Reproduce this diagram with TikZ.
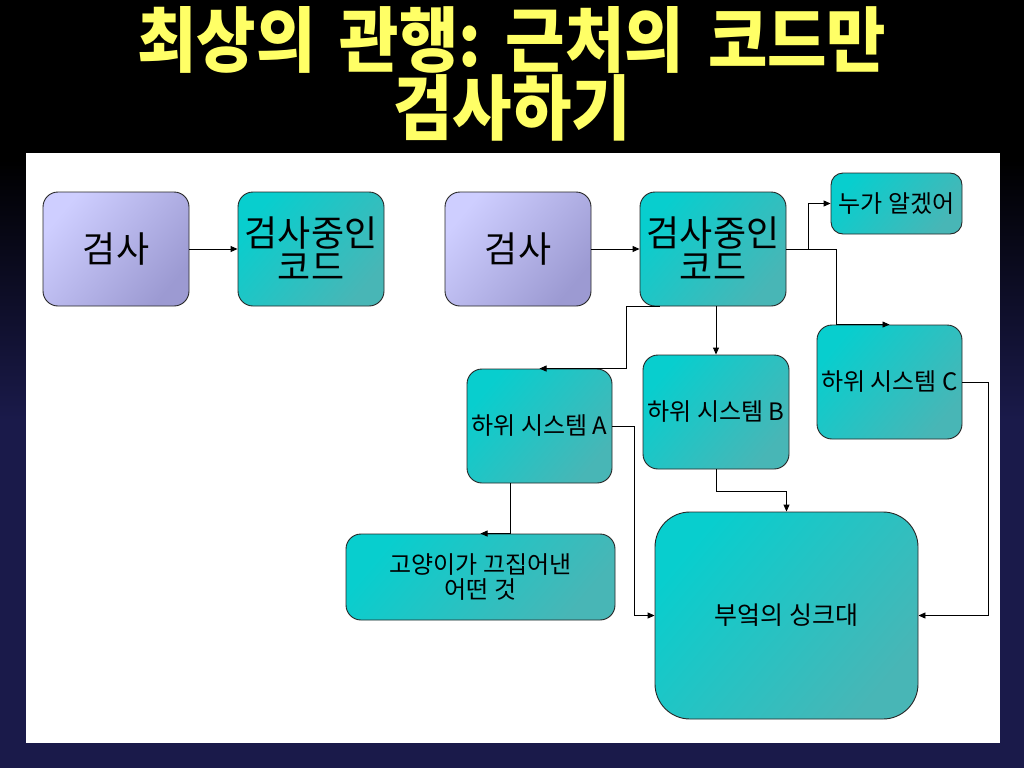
\documentclass[tikz,border=0pt]{standalone}
\usepackage{fontspec}
\setmainfont{Noto Sans CJK KR}
\newfontfamily\titlefont[FakeStretch=0.91]{Noto Sans CJK KR}
\usetikzlibrary{arrows.meta}
\definecolor{tealA}{RGB}{8,206,206}
\definecolor{tealB}{RGB}{72,182,182}
\definecolor{lavA}{RGB}{206,206,255}
\definecolor{lavB}{RGB}{156,154,210}
\definecolor{navy}{RGB}{26,26,74}
\definecolor{titleyellow}{RGB}{255,255,102}
\tikzset{
  boxbase/.style={draw=black!85, line width=0.9pt, rounded corners=15pt, inner sep=0pt, align=center},
  tealbox/.style={boxbase, top color=tealA, bottom color=tealB, shading angle=50},
  lavbox/.style={boxbase, top color=lavA, bottom color=lavB, shading angle=50},
  bigtxt/.style={font=\fontsize{36}{34}\selectfont},
  smalltxt/.style={font=\fontsize{24}{25}\selectfont},
  conn/.style={draw=black, line width=0.9pt, -{Triangle[length=7pt,width=6pt]}},
}
\begin{document}
\begin{tikzpicture}[x=1pt,y=-1pt]
\useasboundingbox (0,0) rectangle (1024,768);
% background
\fill[black] (0,0) rectangle (1024,160);
\shade[top color=black, bottom color=navy] (0,160) rectangle (1024,420);
\fill[navy] (0,420) rectangle (1024,768);
% title
\node[text=titleyellow, align=center, font=\titlefont\bfseries\fontsize{71}{64}\selectfont] (title) at (512,74) {최상의\hspace{0.34em}관행:\hspace{0.34em}근처의\hspace{0.34em}코드만\\검사하기};
% panel
\fill[white] (26,153) rectangle (1000,743);
% nodes
\node[lavbox, bigtxt, minimum width=146pt, minimum height=114pt] (ins1) at (116,249) {검사};
\node[tealbox, bigtxt, minimum width=146pt, minimum height=114pt] (code1) at (311,249) {검사중인\\코드};
\node[lavbox, bigtxt, minimum width=146pt, minimum height=114pt] (ins2) at (518,249) {검사};
\node[tealbox, bigtxt, minimum width=146pt, minimum height=114pt] (code2) at (713,249) {검사중인\\코드};
\node[tealbox, smalltxt, rounded corners=12pt, minimum width=131pt, minimum height=61pt] (who) at (896.5,203.5) {누가 알겠어};
\node[tealbox, smalltxt, minimum width=145pt, minimum height=114pt] (subC) at (889.5,382) {하위 시스템 C};
\node[tealbox, smalltxt, minimum width=145pt, minimum height=114pt] (subA) at (539.5,426) {하위 시스템 A};
\node[tealbox, smalltxt, minimum width=146pt, minimum height=114pt] (subB) at (716,412) {하위 시스템 B};
\node[tealbox, smalltxt, minimum width=269pt, minimum height=86pt] (cat) at (480.5,577) {고양이가 끄집어낸\\어떤 것};
\node[tealbox, font=\fontsize{25}{28}\selectfont, rounded corners=35pt, minimum width=263pt, minimum height=207pt] (sink) at (786.5,615.5) {부엌의 싱크대};
% connectors
\draw[conn] (ins1.east) -- (code1.west);
\draw[conn] (ins2.east) -- (code2.west);
\draw[conn] (code2.east) -- ++(22,0) |- (who.west);
\draw[conn] (code2.east) -| ([xshift=20pt]subC.north west) -- (subC.north);
\draw[conn] (subB.north |- code2.south) -- (subB.north);
\draw[conn] ([xshift=20pt]code2.south west) -- ([xshift=-13pt]code2.south west) |- (subA.north);
\draw[conn] (subA.east) -- ++(22,0) |- (sink.west);
\draw[conn] (subB.south) -- ++(0,22) -| (sink.north);
\draw[conn] (subC.east) -- ++(26,0) |- (sink.east);
\draw[conn] ([xshift=44pt]subA.south west) |- (cat.north);
\end{tikzpicture}
\end{document}
